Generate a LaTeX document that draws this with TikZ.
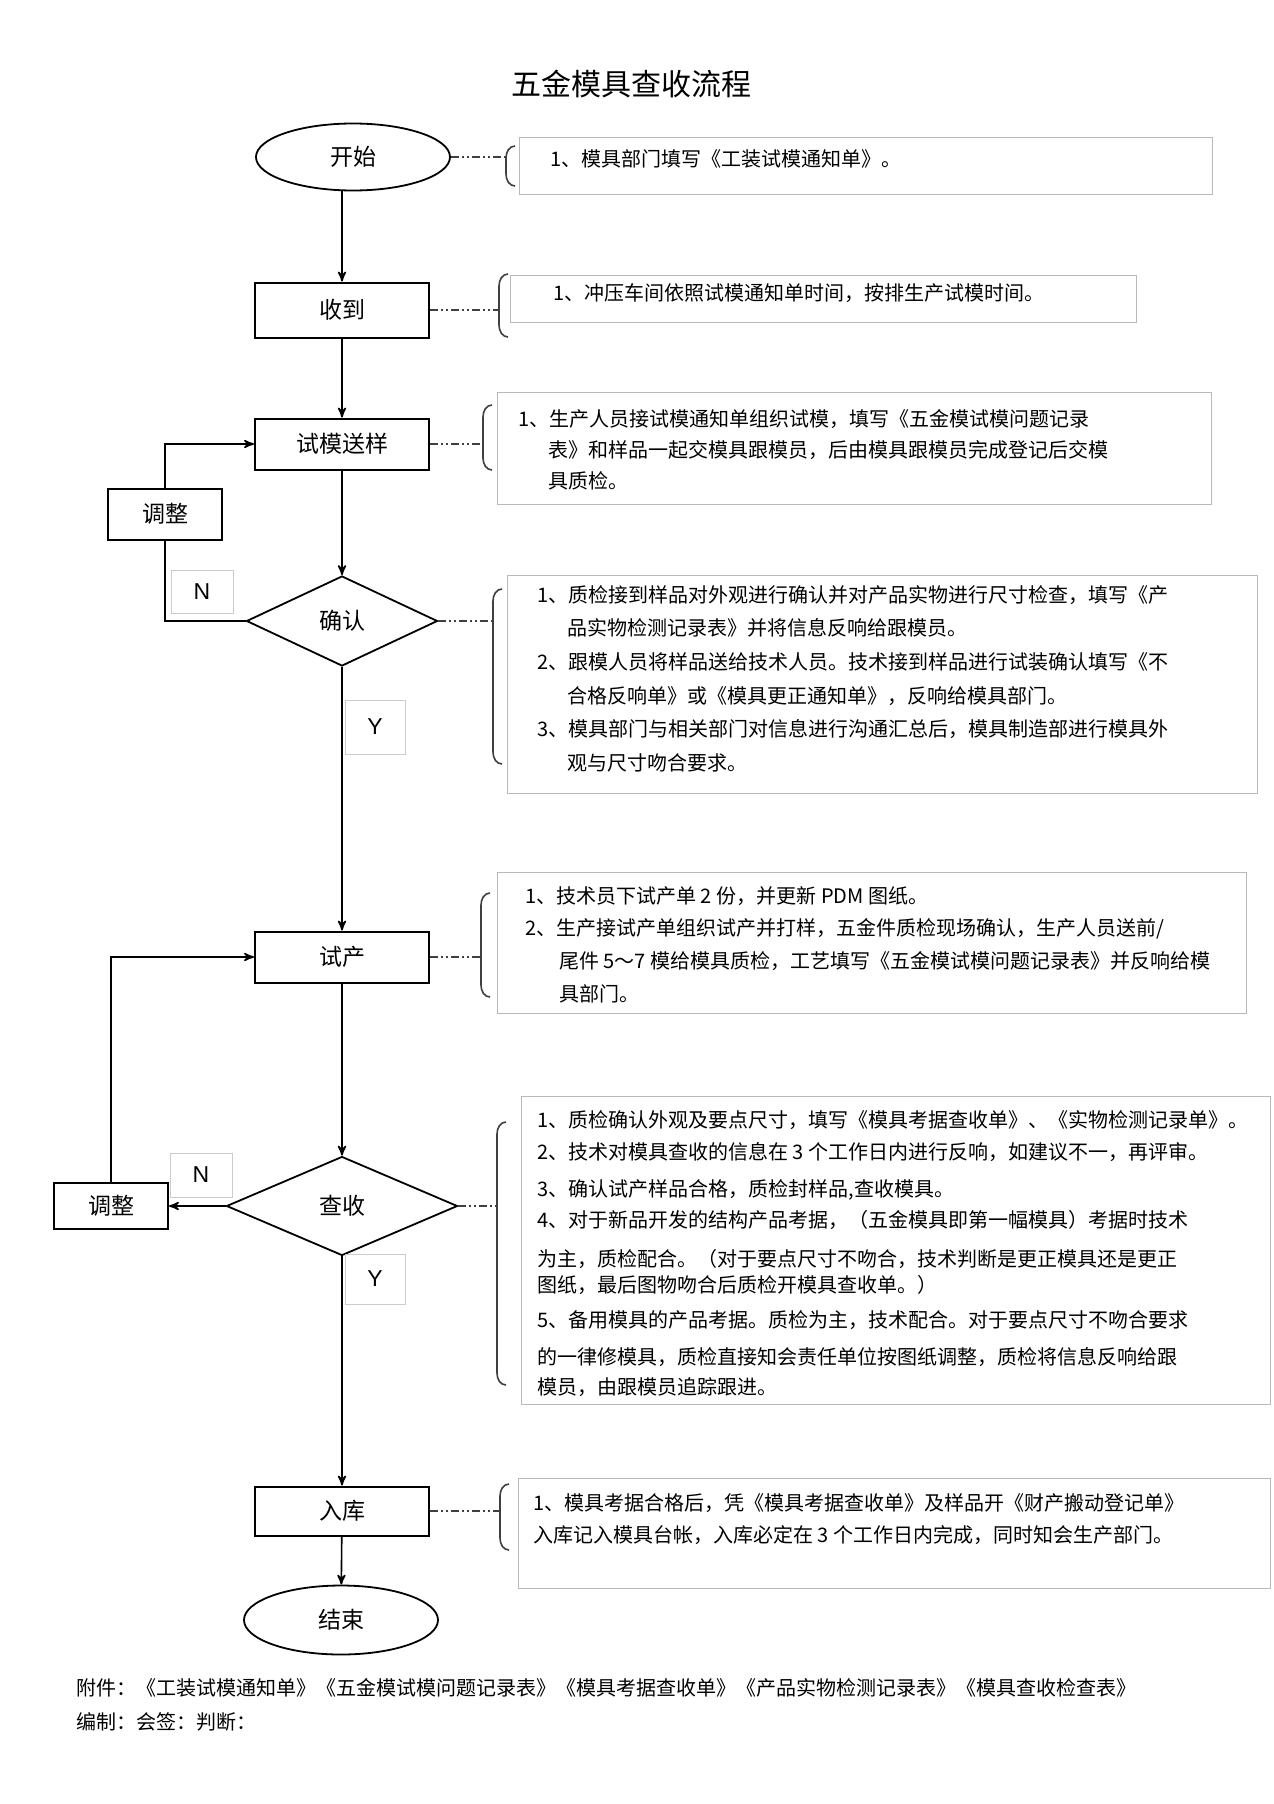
\documentclass[tikz,border=0pt]{standalone}
\usepackage{fontspec}
\setmainfont{Noto Sans CJK SC}
\newfontfamily\latinfont{Liberation Sans}
\usetikzlibrary{positioning, arrows, shapes.geometric}
\newcommand{\notebrace}[3]{% left bracket of a note: x, top, bottom
	\draw[brace] (#1+9,#2) to[out=180,in=90] (#1,#2+12) -- (#1,#3-12) to[out=270,in=180] (#1+9,#3);}
\tikzset{
	>=stealth', % arrow heads
	flow/.style={line width=0.8pt}, % main connectors
	flowbox/.style={draw, line width=1pt, minimum width=87pt, minimum height=25.5pt, font=\fontsize{11.5pt}{14pt}\selectfont},
	adjbox/.style={draw, line width=1pt, minimum width=57pt, minimum height=24pt, font=\fontsize{11.5pt}{14pt}\selectfont},
	term/.style={draw, ellipse, line width=0.9pt, font=\fontsize{11.5pt}{14pt}\selectfont},
	decide/.style={draw, diamond, line width=0.9pt, inner sep=0pt, font=\fontsize{11.5pt}{14pt}\selectfont},
	ynbox/.style={draw=gray!40, thin, minimum width=31pt, font=\latinfont\fontsize{11.5pt}{14pt}\selectfont},
	notebox/.style={draw=gray!55, thin}, % frame of a note
	notetext/.style={anchor=north west, align=left, inner sep=0pt, font=\fontsize{10pt}{16pt}\selectfont},
	brace/.style={line width=0.8pt, black!75},
	link/.style={black!75, line width=0.6pt, dash pattern=on 4pt off 1.5pt on 1pt off 1.5pt on 1pt off 1.5pt},
}

\begin{document}
\begin{tikzpicture}[x=0.5pt, y=-0.5pt]
	\useasboundingbox[fill=white] (0,0) rectangle (1274,1804);

	% Title
	\node[font=\fontsize{15pt}{18pt}\selectfont] (title) at (631,84) {五金模具查收流程};

	% Define steps
	\node[term, minimum width=97pt, minimum height=33.5pt] (start) at (353,157) {开始};
	\node[flowbox, minimum height=27.5pt] (recv) at (342,310) {收到};
	\node[flowbox] (tm) at (342,444) {试模送样};
	\node[decide, minimum width=95.5pt, minimum height=45pt] (confirm) at (342,621) {确认};
	\node[adjbox, minimum height=25.5pt] (adj1) at (165,514) {调整};
	\node[flowbox] (trial) at (342,957) {试产};
	\node[decide, minimum width=115.5pt, minimum height=49.5pt] (check) at (342,1206) {查收};
	\node[adjbox, minimum height=23pt] (adj2) at (111,1206) {调整};
	\node[flowbox, minimum height=24.5pt] (store) at (342,1511) {入库};
	\node[term, minimum width=97pt, minimum height=34.5pt] (finish) at (341,1620) {结束};

	% Y / N labels
	\node[ynbox, minimum height=21.5pt] (no1) at (202,592) {N};
	\node[ynbox, minimum width=30pt, minimum height=27pt] (yes1) at (375,727) {Y};
	\node[ynbox, minimum height=22pt] (no2) at (201,1175) {N};
	\node[ynbox, minimum width=30pt, minimum height=25pt] (yes2) at (375,1279) {Y};

	% Transitions
	\draw[->, flow] (start.south -| recv.north) -- (recv.north);
	\path[->, flow]
	(recv) edge (tm)
	(tm) edge (confirm)
	(confirm) edge (trial)
	(trial) edge (check)
	(check) edge (store)
	(store) edge (finish)
	(check) edge (adj2);
	\draw[->, flow] (adj1.north) |- (tm.west);
	\draw[flow] (confirm.west) -| (adj1.south);
	\draw[->, flow] (adj2.north) |- (trial.west);

	% Notes
	\node[notebox, minimum width=346.5pt, minimum height=28.5pt] (note1) at (865.5,165.5) {};
	\node[notetext] (text1) at (550,149) {1、模具部门填写《工装试模通知单》。};
	\notebrace{506}{146}{186}
	\coordinate (br1) at (506,166);
	\draw[link] (start.east) -- (start.east -| br1);

	\node[notebox, minimum width=313pt, minimum height=23.5pt] (note2) at (823,298.5) {};
	\node[notetext] (text2) at (553,283) {1、冲压车间依照试模通知单时间，按排生产试模时间。};
	\notebrace{499}{274}{337}
	\coordinate (br2) at (499,305);
	\draw[link] (recv.east) -- (recv.east -| br2);

	\node[notebox, minimum width=357pt, minimum height=56pt] (note3) at (854,448) {};
	\node[notetext, font=\fontsize{10pt}{15.5pt}\selectfont] (text3) at (518,409) {1、生产人员接试模通知单组织试模，填写《五金模试模问题记录\\
		\hspace*{1.5em}表》和样品一起交模具跟模员，后由模具跟模员完成登记后交模\\
		\hspace*{1.5em}具质检。};
	\notebrace{483}{405}{470}
	\coordinate (br3) at (483,437);
	\draw[link] (tm.east) -- (tm.east -| br3);

	\node[notebox, minimum width=375pt, minimum height=109pt] (note4) at (882,684) {};
	\node[notetext, font=\fontsize{10pt}{16.8pt}\selectfont] (text4) at (537,585) {1、质检接到样品对外观进行确认并对产品实物进行尺寸检查，填写《产\\
		\hspace*{1.5em}品实物检测记录表》并将信息反响给跟模员。\\
		2、跟模人员将样品送给技术人员。技术接到样品进行试装确认填写《不\\
		\hspace*{1.5em}合格反响单》或《模具更正通知单》，反响给模具部门。\\
		3、模具部门与相关部门对信息进行沟通汇总后，模具制造部进行模具外\\
		\hspace*{1.5em}观与尺寸吻合要求。};
	\notebrace{493}{589}{764}
	\coordinate (br4) at (493,676);
	\draw[link] (confirm.east) -- (confirm.east -| br4);

	\node[notebox, minimum width=374.5pt, minimum height=70.5pt] (note5) at (871.5,942.5) {};
	\node[notetext, font=\fontsize{10pt}{16.3pt}\selectfont] (text5) at (525,886) {1、技术员下试产单 2 份，并更新 PDM 图纸。\\
		2、生产接试产单组织试产并打样，五金件质检现场确认，生产人员送前/\\
		\hspace*{1.7em}尾件 5～7 模给模具质检，工艺填写《五金模试模问题记录表》并反响给模\\
		\hspace*{1.7em}具部门。};
	\notebrace{481}{893}{997}
	\coordinate (br5) at (481,945);
	\draw[link] (trial.east) -- (trial.east -| br5);

	\node[notebox, minimum width=374.5pt, minimum height=154pt] (note6) at (895.5,1250) {};
	\node[notetext] (text6) at (537,1110) {1、质检确认外观及要点尺寸，填写《模具考据查收单》、《实物检测记录单》。\\
		2、技术对模具查收的信息在 3 个工作日内进行反响，如建议不一，再评审。\\[2.5pt]
		3、确认试产样品合格，质检封样品,查收模具。\\[-0.5pt]
		4、对于新品开发的结构产品考据，（五金模具即第一幅模具）考据时技术\\[3.5pt]
		为主，质检配合。（对于要点尺寸不吻合，技术判断是更正模具还是更正\\[-3pt]
		图纸，最后图物吻合后质检开模具查收单。）\\[1.5pt]
		5、备用模具的产品考据。质检为主，技术配合。对于要点尺寸不吻合要求\\[2.5pt]
		的一律修模具，质检直接知会责任单位按图纸调整，质检将信息反响给跟\\[-1pt]
		模员，由跟模员追踪跟进。};
	\notebrace{497}{1122}{1385}
	\coordinate (br6) at (497,1253);
	\draw[link] (check.east) -- (check.east -| br6);

	\node[notebox, minimum width=376pt, minimum height=55pt] (note7) at (894,1533) {};
	\node[notetext] (text7) at (533,1493) {1、模具考据合格后，凭《模具考据查收单》及样品开《财产搬动登记单》\\
		入库记入模具台帐，入库必定在 3 个工作日内完成，同时知会生产部门。};
	\notebrace{500}{1484}{1550}
	\coordinate (br7) at (500,1517);
	\draw[link, line width=1.2pt] (store.east) -- (store.east -| br7);

	% Footer
	\node[anchor=west, inner sep=0pt, font=\fontsize{10pt}{12pt}\selectfont] (annex) at (76,1688) {附件：《工装试模通知单》《五金模试模问题记录表》《模具考据查收单》《产品实物检测记录表》《模具查收检查表》};
	\node[anchor=west, inner sep=0pt, font=\fontsize{10pt}{12pt}\selectfont] (sign) at (76,1722) {编制：会签：判断：};
\end{tikzpicture}
\end{document}
